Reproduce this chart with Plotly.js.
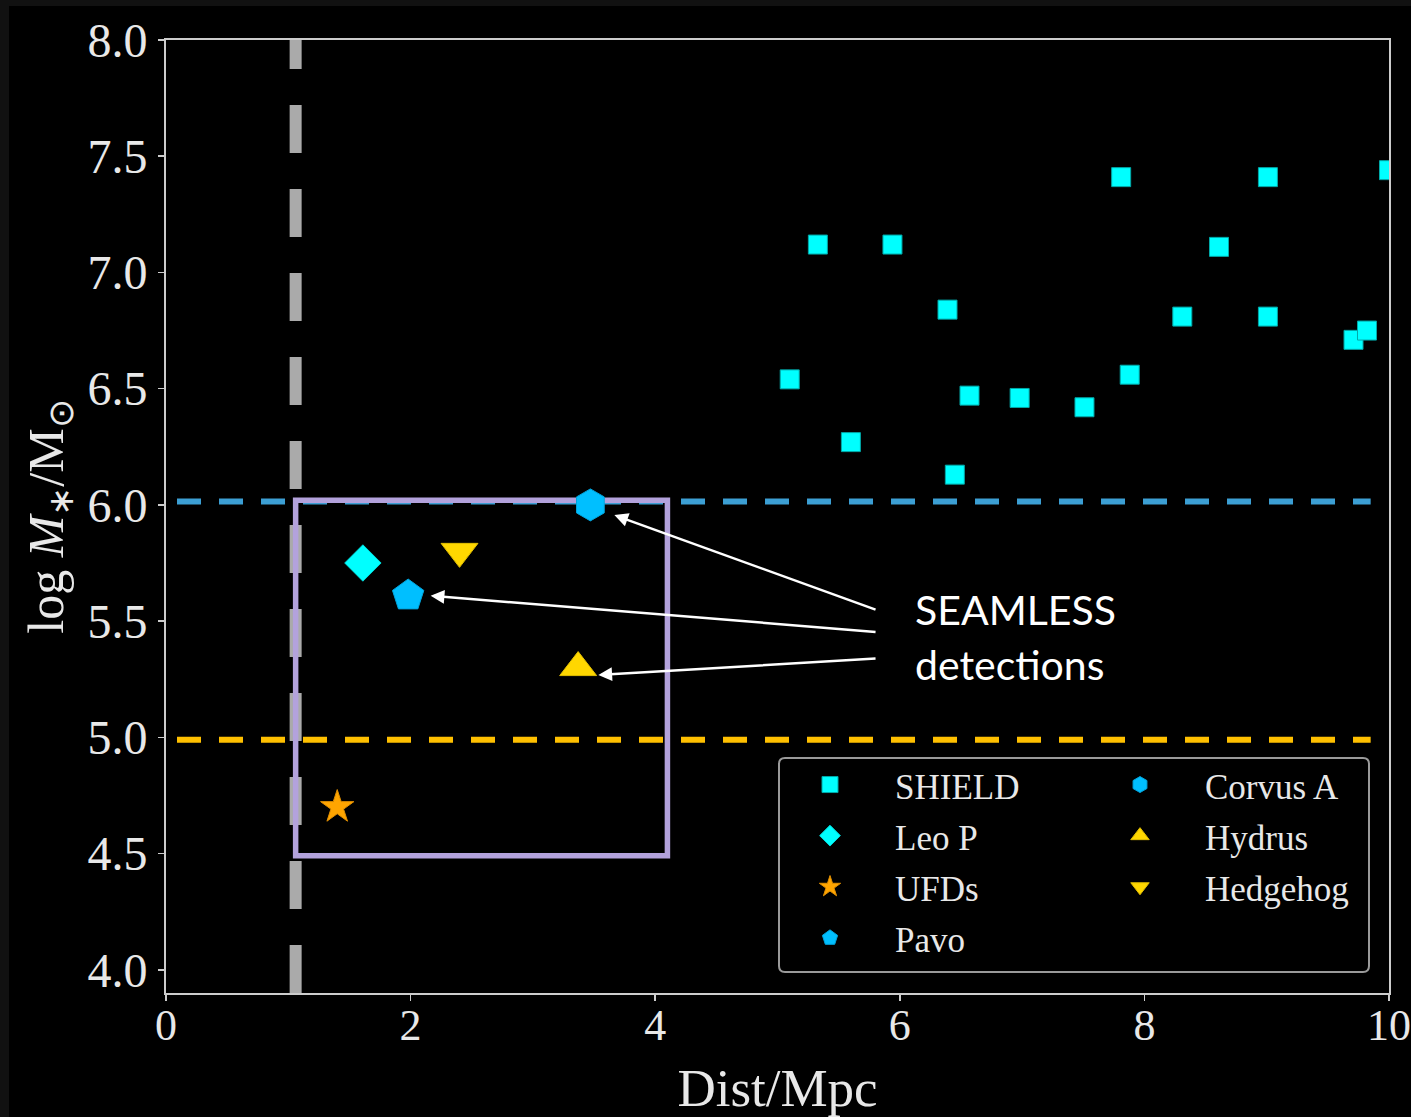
<!DOCTYPE html>
<html>
<head>
<meta charset="utf-8">
<script src="https://cdn.plot.ly/plotly-3.0.1.min.js"></script>
<style>
html,body{margin:0;padding:0;background:#000;}
#chart{width:1411px;height:1117px;}
</style>
</head>
<body>
<div id="chart"></div>
<script>
// ---------------- data ----------------
const shieldDist = [5.10, 5.33, 5.60, 5.94, 6.39, 6.45, 6.57, 6.98, 7.51, 7.81, 7.88, 8.31, 8.61, 9.01, 9.01, 9.71, 9.82, 10.0];
const shieldLogM = [6.54, 7.12, 6.27, 7.12, 6.84, 6.13, 6.47, 6.46, 6.42, 7.41, 6.56, 6.81, 7.11, 7.41, 6.81, 6.71, 6.75, 7.44];
const leoPDist = [1.61];      const leoPLogM = [5.75];
const ufdDist = [1.40];       const ufdLogM = [4.70];
const pavoDist = [1.98];      const pavoLogM = [5.61];
const corvusDist = [3.47];    const corvusLogM = [6.00];
const hydrusDist = [3.37];    const hydrusLogM = [5.30];
const hedgehogDist = [2.40];  const hedgehogLogM = [5.80];

const lgEdgeDist = 1.06;            // vertical dashed line
const limitHighLogM = 6.015;        // blue dashed line
const limitLowLogM = 4.99;          // orange dashed line
const limitLineDist = [0.09, 9.85]; // extent of horizontal dashed lines
const boxDist = [1.06, 4.10];       // highlighted region
const boxLogM = [4.49, 6.02];

const arrowHeadDist = [3.666, 2.164, 3.535];
const arrowHeadLogM = [5.956, 5.609, 5.268];
const arrowTailDist = [5.814, 5.814, 5.814];
const arrowTailLogM = [5.547, 5.453, 5.339];

const calloutLines = ['SEAMLESS', 'detections'];
const xTicks = [0, 2, 4, 6, 8, 10];
const yTicks = [4.0, 4.5, 5.0, 5.5, 6.0, 6.5, 7.0, 7.5, 8.0];
const xRange = [0, 10];
const yRange = [3.9, 8.0];

// ---------------- layout helpers ----------------
const W = 1411, H = 1117;
const M = {l: 166, r: 22, t: 40, b: 124};
const PW = W - M.l - M.r, PH = H - M.t - M.b;
const px2paperX = p => (p - M.l) / PW;
const px2paperY = p => (H - M.b - p) / PH;

const serif = 'Liberation Serif, Times New Roman, serif';
const txtColor = '#e8e8e8';
const lg = s => '<span style="font-size:35px">' + s + '</span>';

function mk(name, x, y, symbol, size, color, edge, legend) {
  return {type: 'scatter', mode: 'markers', name: lg(name), x: x, y: y,
    legend: legend, cliponaxis: true,
    marker: {symbol: symbol, size: size, color: color, line: {color: edge, width: 1}}};
}

const traces = [
  mk('SHIELD', shieldDist, shieldLogM, 'square', 19, '#00ffff', '#00a8a8', 'legend'),
  mk('Leo P', leoPDist, leoPLogM, 'diamond', 28, '#00ffff', '#00d8d8', 'legend'),
  mk('UFDs', ufdDist, ufdLogM, 'star', 25, '#ffa500', '#e08e00', 'legend'),
  mk('Pavo', pavoDist, pavoLogM, 'pentagon', 33, '#00bfff', '#00a4dc', 'legend'),
  mk('Corvus A', corvusDist, corvusLogM, 'hexagon', 32, '#00bfff', '#00a4dc', 'legend2'),
  mk('Hydrus', hydrusDist, hydrusLogM, 'triangle-up', 32, '#ffd700', '#e0bd00', 'legend2'),
  mk('Hedgehog', hedgehogDist, hedgehogLogM, 'triangle-down', 32, '#ffd700', '#e0bd00', 'legend2')
];

// legend frame (rounded rectangle in paper units)
const lx0 = px2paperX(779), lx1 = px2paperX(1369), ly0 = px2paperY(972), ly1 = px2paperY(758);
const rx = 6 / PW, ry = 6 / PH;
const legendPath = 'M' + (lx0 + rx) + ',' + ly1 + ' L' + (lx1 - rx) + ',' + ly1 +
  ' Q' + lx1 + ',' + ly1 + ' ' + lx1 + ',' + (ly1 - ry) + ' L' + lx1 + ',' + (ly0 + ry) +
  ' Q' + lx1 + ',' + ly0 + ' ' + (lx1 - rx) + ',' + ly0 + ' L' + (lx0 + rx) + ',' + ly0 +
  ' Q' + lx0 + ',' + ly0 + ' ' + lx0 + ',' + (ly0 + ry) + ' L' + lx0 + ',' + (ly1 - ry) +
  ' Q' + lx0 + ',' + ly1 + ' ' + (lx0 + rx) + ',' + ly1 + ' Z';

const shapes = [
  // black figure area inside a thin dark-grey frame
  {type: 'rect', xref: 'paper', yref: 'paper', layer: 'below',
   x0: px2paperX(9), x1: px2paperX(W + 5), y0: px2paperY(H + 5), y1: px2paperY(6),
   fillcolor: '#000000', line: {width: 0}},
  // vertical grey dashed line (drawn bottom -> top)
  {type: 'line', xref: 'x', yref: 'y', layer: 'below',
   x0: lgEdgeDist, x1: lgEdgeDist, y0: yRange[0], y1: yRange[1],
   line: {color: '#aaaaaa', width: 12, dash: '48px,36px'}},
  // blue dashed line
  {type: 'line', xref: 'x', yref: 'y', layer: 'below',
   x0: limitLineDist[0], x1: limitLineDist[1], y0: limitHighLogM, y1: limitHighLogM,
   line: {color: '#3c9fd4', width: 6, dash: '24px,18px'}},
  // orange dashed line
  {type: 'line', xref: 'x', yref: 'y', layer: 'below',
   x0: limitLineDist[0], x1: limitLineDist[1], y0: limitLowLogM, y1: limitLowLogM,
   line: {color: '#ffc000', width: 6, dash: '24px,18px'}},
  // purple highlight box
  {type: 'rect', xref: 'x', yref: 'y', layer: 'below',
   x0: boxDist[0], x1: boxDist[1], y0: boxLogM[0], y1: boxLogM[1],
   fillcolor: 'rgba(0,0,0,0)', line: {color: '#b3a2dc', width: 5.5}},
  // legend frame
  {type: 'path', xref: 'paper', yref: 'paper', layer: 'above', path: legendPath,
   fillcolor: 'rgba(0,0,0,0.8)', line: {color: '#9a9a9a', width: 2}}
];

const annotations = [];
for (let i = 0; i < arrowHeadDist.length; i++) {
  annotations.push({
    x: arrowHeadDist[i], y: arrowHeadLogM[i], xref: 'x', yref: 'y',
    ax: arrowTailDist[i], ay: arrowTailLogM[i], axref: 'x', ayref: 'y',
    text: '', showarrow: true, arrowhead: 2, arrowsize: 1.1, arrowwidth: 2.5,
    arrowcolor: '#ffffff', standoff: 0, startstandoff: 0
  });
}
const calloutY = [609, 664];
calloutLines.forEach((t, i) => {
  annotations.push({
    x: px2paperX(913), y: px2paperY(calloutY[i]), xref: 'paper', yref: 'paper',
    xanchor: 'left', yanchor: 'middle', showarrow: false, text: t,
    font: {family: 'Lato, Open Sans, sans-serif', size: 41, color: '#ffffff'}
  });
});

const axisCommon = {
  showgrid: false, zeroline: false, showline: true, mirror: true,
  linecolor: '#cccccc', linewidth: 2, ticks: 'outside', ticklen: 6, tickwidth: 1.5,
  tickcolor: '#cccccc', tickfont: {family: serif, size: 48, color: txtColor},
  ticklabeloverflow: 'allow'
};

const layout = {
  width: W, height: H,
  margin: M,
  paper_bgcolor: '#111111', plot_bgcolor: '#000000',
  hovermode: false,
  xaxis: Object.assign({}, axisCommon, {
    range: xRange, tickvals: xTicks, ticktext: xTicks.map(String), ticklabelstandoff: -14,
    tickfont: {family: serif, size: 44, color: txtColor},
    title: {text: 'Dist/Mpc', font: {family: serif, size: 53, color: txtColor}, standoff: 28}
  }),
  yaxis: Object.assign({}, axisCommon, {
    range: yRange, tickvals: yTicks, ticktext: yTicks.map(v => v.toFixed(1)), ticklabelstandoff: 1,
    title: {text: 'log <i>M</i><sub>∗</sub>/M<sub>⊙</sub>', font: {family: serif, size: 50, color: txtColor}, standoff: 8}
  }),
  legend: {x: px2paperX(765), y: px2paperY(754), xanchor: 'left', yanchor: 'top',
    bgcolor: 'rgba(0,0,0,0)', borderwidth: 0, itemwidth: 120,
    font: {family: serif, size: 37, color: txtColor}},
  legend2: {x: px2paperX(1075), y: px2paperY(754), xanchor: 'left', yanchor: 'top',
    bgcolor: 'rgba(0,0,0,0)', borderwidth: 0, itemwidth: 120,
    font: {family: serif, size: 37, color: txtColor}},
  shapes: shapes,
  annotations: annotations,
  showlegend: true
};

Plotly.newPlot('chart', traces, layout, {displayModeBar: false, staticPlot: true});
</script>
</body>
</html>
